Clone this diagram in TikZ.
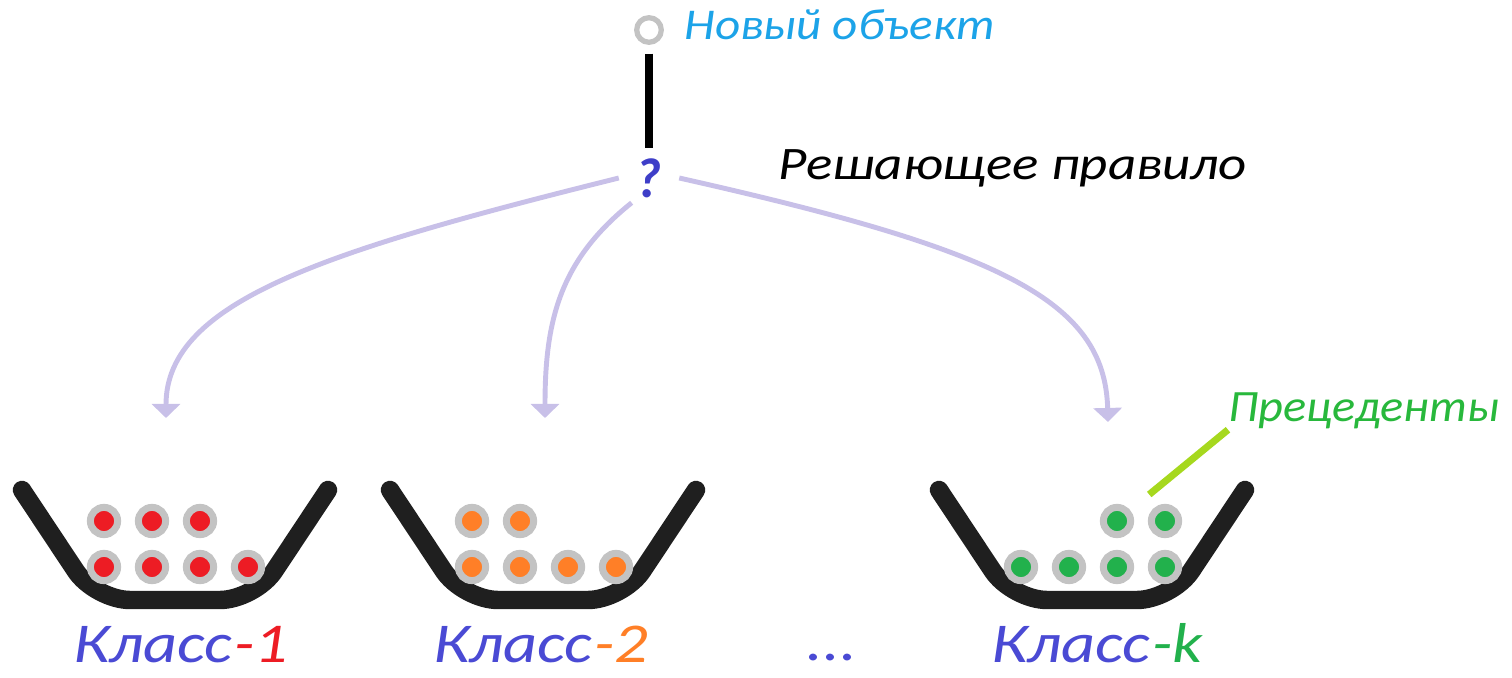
\documentclass[tikz,border=0pt]{standalone}
\usepackage{fontspec}
\setmainfont{Carlito}
\usepackage{tikz}
\usetikzlibrary{arrows.meta,positioning}

\definecolor{objcyan}{RGB}{28,163,232}
\definecolor{klassblue}{RGB}{74,74,212}
\definecolor{qblue}{RGB}{62,62,200}
\definecolor{flowlilac}{RGB}{200,192,232}
\definecolor{precgreen}{RGB}{40,184,60}
\definecolor{ptrgreen}{RGB}{166,216,30}
\definecolor{ringgray}{RGB}{195,195,195}
\definecolor{ballred}{RGB}{237,28,36}
\definecolor{ballorange}{RGB}{255,127,39}
\definecolor{ballgreen}{RGB}{34,177,76}

\newcommand{\wide}[2][1.18]{\scalebox{#1}[1]{#2}}

\tikzset{
  bowl/.style={line width=10.5pt, line cap=round, line join=round, rounded corners=20pt, black!88},
  basket/.pic={\draw[bowl] (-153,0) -- (-80,110) -- (80,110) -- (153,0);},
  ball/.style={circle, draw=ringgray, line width=4pt, minimum size=15.5pt, inner sep=0pt},
  flow/.style={flowlilac, line width=2.8pt, -{Triangle[width=16pt,length=8pt]}},
  klass/.style={anchor=base, text=klassblue, inner sep=0pt, font=\itshape\fontsize{32}{34}\selectfont},
  caption/.style={anchor=base west, inner sep=0pt, font=\itshape\fontsize{#1}{#1}\selectfont},
}

\begin{document}
\begin{tikzpicture}[x=0.02cm,y=-0.02cm]
  \useasboundingbox (0,0) rectangle (1512,678);

  \node[circle, draw=ringgray, line width=3pt, minimum size=14pt, inner sep=0pt] (obj) at (649,30) {};
  \node[caption=25, text=objcyan] (objlbl) at (684,40) {\wide[1.12]{Новый объект}};
  \node[circle, minimum size=34pt, inner sep=0pt, text=qblue, font=\bfseries\itshape\fontsize{32}{32}\selectfont] (q) at (649,178) {?};
  \node[caption=26.5] (rule) at (778,180) {\wide{Решающее правило}};
  \draw[line width=4pt, shorten <=5pt] (obj) -- (q.north);

  \pic at (175,490) {basket};
  \pic at (543,490) {basket};
  \pic at (1092,490) {basket};

  \foreach \dx [count=\i] in {-71,-23,25,73} {
    \node[ball, fill=ballred] (r\i) at (175+\dx,567) {};
    \node[ball, fill=ballorange] (o\i) at (543+\dx,567) {};
    \node[ball, fill=ballgreen] (g\i) at (1092+\dx,567) {};
  }
  \foreach \dx [count=\i] in {-71,-23,25} \node[ball, fill=ballred] (rt\i) at (175+\dx,521) {};
  \foreach \dx [count=\i] in {-71,-23} \node[ball, fill=ballorange] (ot\i) at (543+\dx,521) {};
  \foreach \dx [count=\i] in {25,73} \node[ball, fill=ballgreen] (gt\i) at (1092+\dx,521) {};

  \coordinate (in1) at (166,418);
  \coordinate (in2) at (545,418);
  \coordinate (ink) at (1108,422);
  \draw[flow] (q.180) .. controls (330,250) and (166,300) .. (in1);
  \draw[flow] (q.235) .. controls (560,260) and (545,320) .. (in2);
  \draw[flow] (q.0) .. controls (1000,250) and (1105,300) .. (ink);

  \node[caption=25.5, text=precgreen] (prec) at (1228,422) {\wide[1.08]{Прецеденты}};
  \draw[ptrgreen, line width=4pt, shorten >=14pt] (prec.south west) -- (gt1);

  \node[klass] (k1) at (181,663) {\wide{Класс\kern1pt\textcolor{ballred}{-1}}};
  \node[klass] (k2) at (541,663) {\wide{Класс\kern1pt\textcolor{ballorange}{-2}}};
  \node[klass] (dots) at (832,661) {\wide{...}};
  \node[klass] (kk) at (1097,663) {\wide{Класс\kern1pt\textcolor{ballgreen}{-k}}};
\end{tikzpicture}
\end{document}
